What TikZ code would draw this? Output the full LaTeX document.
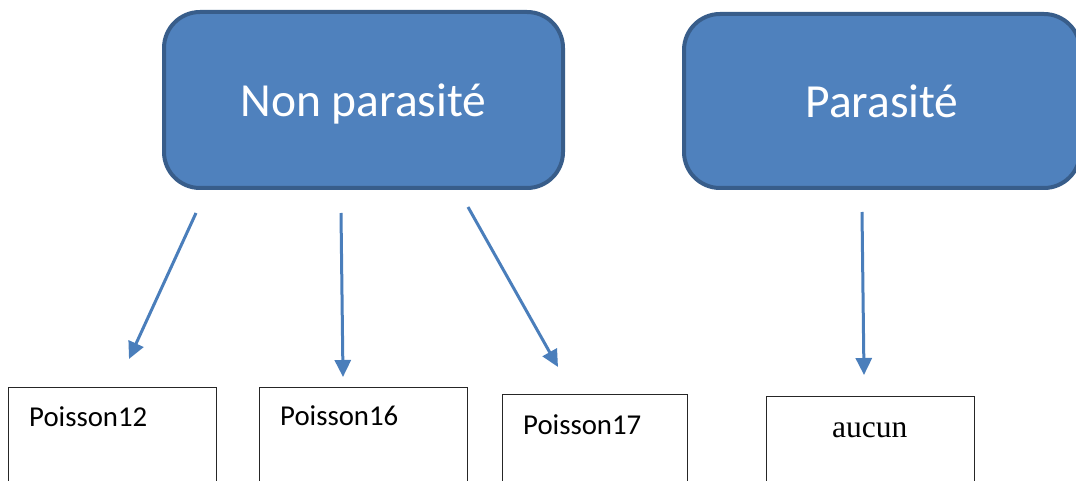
\documentclass[tikz,border=0pt]{standalone}
\usepackage{fontspec}
\setmainfont{Carlito}
\newfontfamily\seriffont{Liberation Serif}
\usetikzlibrary{arrows.meta}

\definecolor{boxfill}{HTML}{4F81BD}
\definecolor{boxline}{HTML}{385D8A}
\definecolor{arrowblue}{HTML}{4A7EBB}

\tikzset{
  groupbox/.style={draw=boxline, fill=boxfill, line width=4pt, rounded corners=36pt,
    text=white, font=\fontsize{47.5}{56}\selectfont, inner sep=0pt,
    text height=34pt, text depth=0pt},
  fishbox/.style={draw=black!85, line width=1.2pt, fill=white, minimum width=208pt,
    minimum height=140pt, inner sep=0pt},
  fishlabel/.style={anchor=base west, inner sep=0pt, font=\fontsize{28.8}{34}\selectfont},
  link/.style={draw=arrowblue, line width=3pt, -{Triangle[length=17pt,width=16pt]}}
}

\begin{document}
\begin{tikzpicture}[x=1pt,y=-1pt]
\useasboundingbox (0,0) rectangle (1076,481);
\begin{scope}
\clip (0,0) rectangle (1076,481);

% top categories
\node[groupbox, minimum width=399pt, minimum height=176pt] (np) at (363.5,100) {Non parasité};
\node[groupbox, minimum width=396pt, minimum height=174pt] (p) at (882,101) {Parasité};

% fish boxes (open at the bottom edge)
\node[fishbox, anchor=north west] (b12) at (8,387) {};
\node[fishbox, anchor=north west] (b16) at (259,387) {};
\node[fishbox, minimum width=185pt, anchor=north west] (b17) at (502,394) {};
\node[fishbox, anchor=north west] (bnone) at (766,396) {};

\node[fishlabel] (t12) at (29,426) {Poisson12};
\node[fishlabel] (t16) at (280,425) {Poisson16};
\node[fishlabel] (t17) at (523,434) {Poisson17};
\node[fishlabel, font=\seriffont\fontsize{31.5}{36}\selectfont] (tnone) at (832,437) {aucun};

% arrow end points
\coordinate (s1) at (196,213);
\coordinate (e1) at (129,359);
\coordinate (s2) at (341,213);
\coordinate (e2) at (343,377);
\coordinate (s3) at (468,207);
\coordinate (e3) at (558,367);
\coordinate (s4) at (862,212);
\coordinate (e4) at (864,375);

\draw[link] (s1) -- (e1);
\draw[link] (s2) -- (e2);
\draw[link] (s3) -- (e3);
\draw[link] (s4) -- (e4);
\end{scope}
\end{tikzpicture}
\end{document}
